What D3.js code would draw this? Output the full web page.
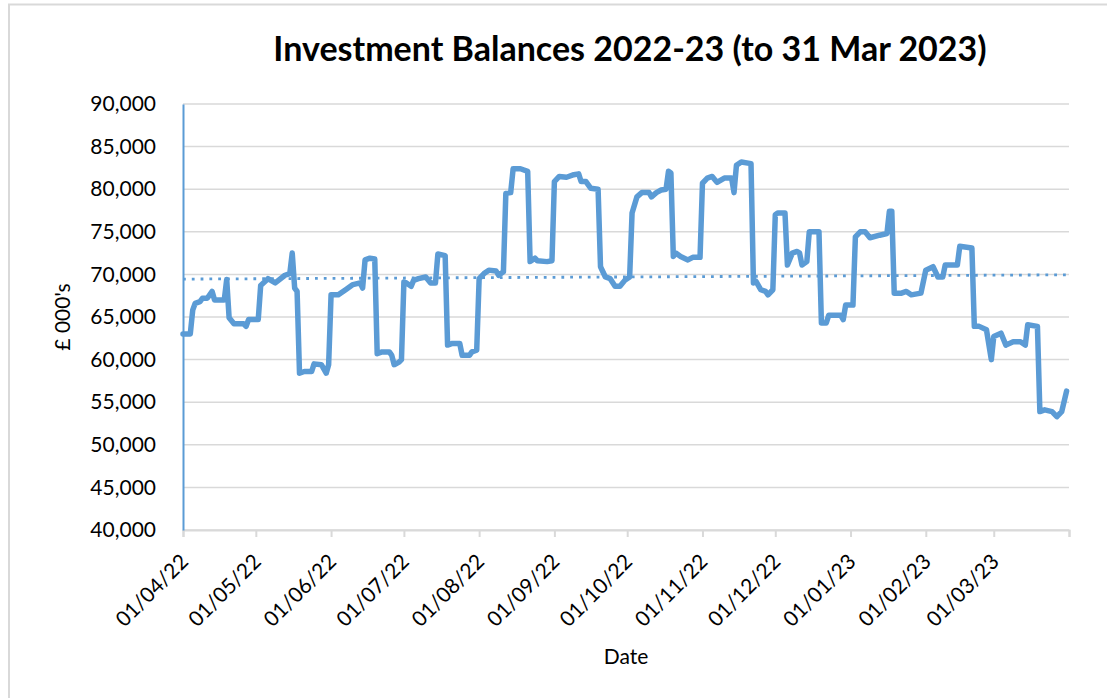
<!DOCTYPE html>
<html lang="en">
<head>
    <meta charset="UTF-8">
    <script src="https://d3js.org/d3.v7.min.js"></script>
    <title>Investment Balances</title>
    <style>
        body { margin: 0; background: #fff; }
        text { font-family: Lato, "Open Sans", sans-serif; fill: #000; }
    </style>
</head>
<body>
    <div id="my_chart"></div>
    <script>
        // balance readings (dd/mm/yy) and values in £000s
        var dates = [
            "01/04/22", "04/04/22", "05/04/22", "06/04/22", "08/04/22", "09/04/22", "11/04/22", "13/04/22", "14/04/22", "18/04/22",
            "19/04/22", "20/04/22", "22/04/22", "26/04/22", "27/04/22", "28/04/22", "02/05/22", "03/05/22", "06/05/22", "09/05/22",
            "13/05/22", "15/05/22", "16/05/22", "17/05/22", "18/05/22", "19/05/22", "21/05/22", "24/05/22", "25/05/22", "28/05/22",
            "30/05/22", "31/05/22", "01/06/22", "04/06/22", "07/06/22", "10/06/22", "13/06/22", "14/06/22", "15/06/22", "17/06/22",
            "19/06/22", "20/06/22", "22/06/22", "25/06/22", "26/06/22", "27/06/22", "29/06/22", "30/06/22", "01/07/22", "02/07/22",
            "04/07/22", "05/07/22", "07/07/22", "10/07/22", "12/07/22", "14/07/22", "15/07/22", "18/07/22", "19/07/22", "21/07/22",
            "24/07/22", "25/07/22", "28/07/22", "29/07/22", "31/07/22", "01/08/22", "03/08/22", "05/08/22", "08/08/22", "09/08/22",
            "11/08/22", "12/08/22", "14/08/22", "15/08/22", "18/08/22", "21/08/22", "22/08/22", "24/08/22", "25/08/22", "29/08/22",
            "31/08/22", "01/09/22", "03/09/22", "06/09/22", "09/09/22", "11/09/22", "12/09/22", "14/09/22", "16/09/22", "19/09/22",
            "20/09/22", "22/09/22", "24/09/22", "26/09/22", "28/09/22", "30/09/22", "02/10/22", "03/10/22", "05/10/22", "07/10/22",
            "10/10/22", "11/10/22", "13/10/22", "15/10/22", "17/10/22", "18/10/22", "19/10/22", "20/10/22", "21/10/22", "23/10/22",
            "26/10/22", "28/10/22", "31/10/22", "01/11/22", "03/11/22", "05/11/22", "07/11/22", "10/11/22", "13/11/22", "14/11/22",
            "15/11/22", "17/11/22", "21/11/22", "22/11/22", "23/11/22", "25/11/22", "27/11/22", "28/11/22", "30/11/22", "01/12/22",
            "02/12/22", "05/12/22", "06/12/22", "08/12/22", "10/12/22", "11/12/22", "12/12/22", "14/12/22", "15/12/22", "19/12/22",
            "20/12/22", "22/12/22", "23/12/22", "28/12/22", "29/12/22", "30/12/22", "02/01/23", "03/01/23", "05/01/23", "07/01/23",
            "09/01/23", "13/01/23", "16/01/23", "17/01/23", "18/01/23", "19/01/23", "22/01/23", "24/01/23", "26/01/23", "30/01/23",
            "01/02/23", "04/02/23", "06/02/23", "08/02/23", "09/02/23", "14/02/23", "15/02/23", "20/02/23", "21/02/23", "23/02/23",
            "26/02/23", "28/02/23", "01/03/23", "04/03/23", "06/03/23", "09/03/23", "12/03/23", "14/03/23", "15/03/23", "19/03/23",
            "20/03/23", "22/03/23", "25/03/23", "27/03/23", "29/03/23", "31/03/23"
        ];
        var balances = [
            63000, 63000, 65800, 66600, 66800, 67200, 67200, 68000, 67000, 67000,
            69400, 64900, 64200, 64200, 63900, 64700, 64700, 68700, 69500, 69000,
            69900, 70100, 72500, 68400, 68000, 58400, 58600, 58600, 59500, 59400,
            58400, 59400, 67600, 67600, 68200, 68800, 69000, 68400, 71700, 71900,
            71800, 60700, 60900, 60900, 60500, 59400, 59700, 60000, 69100, 69000,
            68600, 69300, 69500, 69700, 69000, 69000, 72400, 72200, 61700, 61900,
            61900, 60500, 60500, 60900, 61100, 69500, 70100, 70500, 70400, 69900,
            70300, 79500, 79600, 82400, 82400, 82100, 71500, 71900, 71600, 71500,
            71600, 80900, 81500, 81400, 81700, 81800, 80900, 80900, 80100, 80000,
            70900, 69700, 69500, 68600, 68600, 69300, 69700, 77200, 79100, 79600,
            79600, 79100, 79600, 79900, 80000, 82100, 81900, 72100, 72500, 72100,
            71700, 72000, 72000, 80700, 81300, 81500, 80800, 81300, 81300, 79600,
            82800, 83200, 83000, 69000, 69200, 68200, 68000, 67600, 68200, 77000,
            77200, 77200, 71100, 72500, 72700, 72500, 71100, 71500, 75000, 75000,
            64300, 64300, 65200, 65200, 64700, 66400, 66400, 74400, 75000, 75000,
            74300, 74600, 74800, 77400, 77400, 67800, 67800, 68000, 67600, 67800,
            70500, 70900, 69700, 69700, 71100, 71100, 73300, 73100, 63900, 63900,
            63500, 60000, 62700, 63100, 61700, 62100, 62100, 61700, 64100, 63900,
            53900, 54100, 53900, 53300, 53900, 56300
        ];
        // linear trend line end points
        var trendDates = ["01/04/22", "01/04/23"];
        var trendValues = [69450, 69950];

        var monthTicks = ["01/04/22", "01/05/22", "01/06/22", "01/07/22", "01/08/22", "01/09/22", "01/10/22",
            "01/11/22", "01/12/22", "01/01/23", "01/02/23", "01/03/23", "01/04/23"];
        var yTicks = [40000, 45000, 50000, 55000, 60000, 65000, 70000, 75000, 80000, 85000, 90000];

        var parse = d3.timeParse("%d/%m/%y");
        var fmt = d3.timeFormat("%d/%m/%y");
        var lastTick = parse("01/04/23");

        var data = dates.map(function (d, i) { return { date: parse(d), value: balances[i] }; });
        var trend = trendDates.map(function (d, i) { return { date: parse(d), value: trendValues[i] }; });

        var W = 1107, H = 698;
        var margin = { top: 104, right: 38, bottom: 168, left: 183 },
            width = W - margin.left - margin.right,
            height = H - margin.top - margin.bottom;

        var root = d3.select("#my_chart")
            .append("svg")
            .attr("width", W)
            .attr("height", H);

        // chart area border (only top and left edges visible)
        root.append("path")
            .attr("d", "M9,698 L9,4.5 L1107,4.5")
            .attr("fill", "none")
            .attr("stroke", "#d9d9d9")
            .attr("stroke-width", 2);

        var svg = root.append("g")
            .attr("transform", "translate(" + margin.left + "," + margin.top + ")");

        var x = d3.scaleTime()
            .domain([parse("01/04/22"), lastTick])
            .range([0, width]);
        var y = d3.scaleLinear()
            .domain([40000, 90000])
            .range([height, 0]);

        // gridlines
        svg.append("g")
            .selectAll("line")
            .data(yTicks)
            .enter()
            .append("line")
            .attr("x1", 0)
            .attr("x2", width)
            .attr("y1", function (d) { return y(d); })
            .attr("y2", function (d) { return y(d); })
            .attr("stroke", "#d9d9d9")
            .attr("stroke-width", 1.5);

        // X axis
        var xAxis = svg.append("g")
            .attr("transform", "translate(0," + height + ")")
            .call(d3.axisBottom(x)
                .tickValues(monthTicks.map(parse))
                .tickSize(7)
                .tickFormat(function (d) { return +d === +lastTick ? "" : fmt(d); }));
        xAxis.select(".domain").attr("stroke", "#d9d9d9").attr("stroke-width", 2);
        xAxis.selectAll(".tick line").attr("stroke", "#d9d9d9").attr("stroke-width", 2);
        xAxis.selectAll(".tick text")
            .attr("font-size", 21)
            .attr("text-anchor", "end")
            .attr("x", 0)
            .attr("y", 0)
            .attr("dy", 0)
            .attr("transform", "translate(6,33) rotate(-45)");

        // Y axis
        var yAxis = svg.append("g")
            .call(d3.axisLeft(y)
                .tickValues(yTicks)
                .tickSize(0)
                .tickPadding(27)
                .tickFormat(d3.format(",")));
        yAxis.select(".domain").attr("stroke", "#5b9bd5").attr("stroke-width", 2);
        yAxis.selectAll(".tick text").attr("font-size", 21);

        // trend line
        svg.append("path")
            .datum(trend)
            .attr("fill", "none")
            .attr("stroke", "#5b9bd5")
            .attr("stroke-width", 2.8)
            .attr("stroke-dasharray", "2.8,6")
            .attr("d", d3.line()
                .x(function (d) { return x(d.date); })
                .y(function (d) { return y(d.value); }));

        // balances line
        svg.append("path")
            .datum(data)
            .attr("fill", "none")
            .attr("stroke", "#5b9bd5")
            .attr("stroke-width", 5.5)
            .attr("stroke-linejoin", "round")
            .attr("stroke-linecap", "round")
            .attr("d", d3.line()
                .x(function (d) { return x(d.date); })
                .y(function (d) { return y(d.value); }));

        // titles
        root.append("text")
            .attr("x", 630)
            .attr("y", 61)
            .attr("text-anchor", "middle")
            .attr("font-size", 34)
            .attr("font-weight", "bold")
            .text("Investment Balances 2022-23 (to 31 Mar 2023)");

        root.append("text")
            .attr("transform", "translate(70,317) rotate(-90)")
            .attr("text-anchor", "middle")
            .attr("font-size", 21)
            .text("£ 000's");

        root.append("text")
            .attr("x", 626)
            .attr("y", 664)
            .attr("text-anchor", "middle")
            .attr("font-size", 21)
            .text("Date");
    </script>
</body>
</html>
